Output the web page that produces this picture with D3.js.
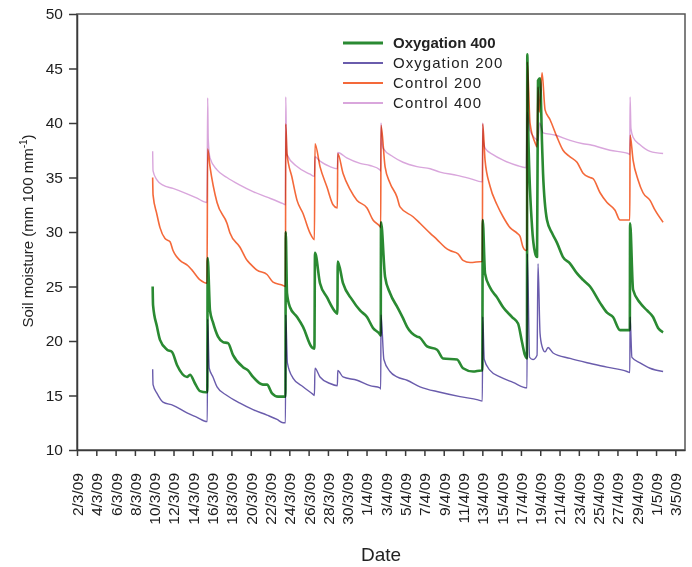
<!DOCTYPE html>
<html>
<head>
<meta charset="utf-8">
<script src="https://cdn.jsdelivr.net/npm/d3@7"></script>
<style>
  body { margin: 0; background: #fff; }
  svg { font-family: "Liberation Sans", Arial, sans-serif; }
  .line { fill: none; stroke-linejoin: round; mix-blend-mode: multiply; }
  .axis path, .axis line { stroke: #3a3a3a; stroke-width: 1.5; }
  .axis text { fill: #1e1e1e; font-size: 15.5px; }
</style>
</head>
<body>
<svg id="chart" width="692" height="567"></svg>
<script>

// Data: [days after 2/3/09, soil moisture (mm 100 mm-1)]
var oxy400 = [
  [7.84,25.0],[7.88,23.3],[8.29,21.3],[8.6,20.1],[9.33,19.2],[9.84,19.0],[10.36,17.8],[11.4,16.7],[11.71,16.9],[12.23,16.1],[12.75,15.4],[13.37,15.3],[13.5,15.3],
  [13.54,27.6],[13.78,22.8],[14.09,21.7],[14.61,20.4],[15.13,19.9],[15.65,19.8],[16.17,18.7],[17.2,17.6],[17.72,17.3],[18.24,16.7],[19.27,16.0],[19.69,16.0],[20.21,15.2],[20.83,14.9],[21.45,14.9],[21.6,14.9],
  [21.63,30.0],[21.76,24.4],[22.07,23.1],[22.8,22.2],[23.42,21.3],[24.35,19.4],[24.6,19.3],
  [24.66,28.1],[25.18,25.3],[25.91,24.0],[26.74,22.7],[26.98,22.5],
  [27.02,27.3],[27.56,25.3],[28.5,23.8],[29.33,22.8],[30.05,22.2],[30.67,21.2],[31.4,20.6],[31.47,20.5],
  [31.5,30.9],[31.92,25.9],[32.43,24.4],[33.26,23.0],[33.78,22.1],[34.2,21.3],[35.23,20.4],[35.54,20.3],[36.27,19.5],[37.31,19.2],[37.93,18.4],[39.38,18.3],[40.0,17.5],[41.04,17.2],[41.87,17.3],[42.0,17.3],
  [42.04,31.1],[42.28,26.2],[42.8,24.9],[43.52,24.0],[44.15,23.1],[45.08,22.2],[45.7,21.6],[46.11,19.9],[46.42,18.7],[46.62,18.4],
  [46.66,46.3],[46.74,40.0],[47.15,30.5],[47.46,28.1],[47.67,27.7],[47.77,43.9],[47.98,44.1],[48.19,38.0],[48.29,35.4],[48.7,31.1],[49.22,29.9],[49.74,29.0],[50.36,27.7],[51.09,27.1],[51.81,26.2],[52.44,25.6],[53.16,25.0],[54.2,23.5],[54.92,22.6],[55.54,22.2],[56.27,21.0],[57.28,21.0],
  [57.31,30.8],[57.62,24.7],[58.34,23.5],[59.07,22.8],[59.69,22.2],[60.21,21.2],[60.73,20.8]
];

var oxy200 = [
  [7.84,17.4],[7.88,16.0],[8.29,15.2],[8.91,14.4],[9.95,14.1],[11.4,13.4],[12.44,13.0],[13.47,12.6],[13.5,12.6],
  [13.54,22.0],[13.7,17.5],[14.09,16.7],[14.51,15.8],[15.54,15.0],[16.89,14.3],[18.24,13.7],[19.69,13.2],[20.73,12.8],[21.35,12.5],[21.6,12.5],
  [21.63,22.4],[21.8,18.0],[22.38,16.6],[23.42,15.8],[24.46,15.1],[24.6,15.0],
  [24.66,17.5],[25.18,16.7],[26.22,16.1],[26.98,15.9],
  [27.02,17.3],[27.56,16.7],[29.02,16.4],[30.36,15.9],[31.4,15.7],[31.47,15.6],
  [31.5,22.4],[31.8,18.3],[32.43,17.2],[33.16,16.7],[34.2,16.4],[35.54,15.8],[37.62,15.3],[39.69,14.9],[41.55,14.6],[42.0,14.5],
  [42.04,22.2],[42.2,18.3],[42.8,17.3],[43.83,16.7],[45.18,16.2],[46.63,15.7],
  [46.66,28.0],[46.9,18.5],[47.25,18.3],[47.67,18.7],[47.77,27.1],[47.98,20.7],[48.19,19.5],[48.5,19.0],[48.81,19.4],[49.33,18.9],[51.09,18.4],[52.85,18.0],[54.92,17.6],[56.99,17.2],[57.28,17.1],
  [57.31,22.2],[57.5,18.5],[58.34,18.0],[59.38,17.5],[60.73,17.2]
];

var ctl200 = [
  [7.84,35.0],[7.88,33.4],[8.26,31.7],[8.6,30.4],[9.12,29.4],[9.64,29.1],[9.95,28.3],[10.67,27.4],[11.5,26.9],[11.92,26.5],[12.75,25.6],[13.47,25.3],
  [13.54,37.6],[13.78,36.0],[14.51,32.7],[15.54,30.8],[15.85,29.9],[16.89,28.6],[17.62,27.4],[17.93,27.1],[18.65,26.5],[19.69,26.1],[20.31,25.4],[21.35,25.1],[21.6,25.0],
  [21.63,39.9],[21.76,37.2],[22.28,35.0],[22.8,32.9],[23.42,31.7],[24.15,29.9],[24.6,29.3],
  [24.66,38.1],[25.18,36.0],[25.91,34.1],[26.53,32.5],[26.98,32.2],
  [27.02,37.2],[27.56,35.4],[28.29,33.9],[29.02,32.9],[30.05,32.2],[30.67,31.1],[31.4,30.5],[31.47,30.4],
  [31.5,39.8],[31.92,36.0],[32.43,34.5],[33.16,33.2],[33.47,32.3],[34.82,31.4],[35.54,30.8],[36.58,29.9],[37.31,29.3],[38.13,28.6],[38.65,28.3],[39.48,28.0],[40.0,27.4],[40.73,27.2],[41.97,27.3],[42.0,27.3],
  [42.04,39.9],[42.28,36.6],[42.8,34.2],[43.52,32.5],[44.15,31.4],[44.87,30.4],[45.6,29.9],[45.91,29.6],[46.22,28.6],[46.53,28.3],[46.62,28.4],
  [46.66,45.6],[46.94,40.0],[47.46,38.2],[47.67,37.8],[47.77,43.3],[47.9,41.0],[48.19,44.6],[48.5,41.2],[49.02,40.3],[49.74,38.7],[50.36,37.5],[51.09,36.9],[51.81,36.4],[52.44,35.4],[53.16,35.0],[53.47,34.9],[54.2,33.6],[54.92,32.7],[55.75,32.0],[56.27,31.1],[57.2,31.1],[57.28,31.1],
  [57.31,38.9],[57.62,36.6],[58.13,34.8],[58.65,33.6],[59.38,32.9],[59.9,32.0],[60.73,30.9]
];

var ctl400 = [
  [7.84,37.4],[7.88,35.6],[8.26,34.8],[8.91,34.3],[9.95,34.0],[11.4,33.5],[12.44,33.1],[13.47,32.7],
  [13.54,42.3],[13.6,38.5],[13.78,36.8],[14.51,35.7],[15.54,35.0],[16.89,34.3],[18.24,33.7],[19.69,33.2],[21.35,32.6],[21.6,32.5],
  [21.63,42.4],[21.7,38.5],[21.76,37.1],[22.8,36.0],[24.15,35.3],[24.6,35.1],
  [24.66,36.9],[25.18,36.5],[26.22,36.0],[26.98,35.8],
  [27.02,37.3],[27.95,36.8],[29.33,36.3],[30.36,36.1],[31.4,35.7],[31.47,35.6],
  [31.5,40.0],[31.6,38.3],[31.71,37.7],[32.75,36.9],[33.78,36.4],[35.23,36.0],[36.6,35.8],[37.62,35.5],[39.38,35.2],[40.73,34.9],[41.97,34.6],[42.0,34.6],
  [42.04,40.0],[42.1,38.5],[42.28,37.7],[43.11,37.1],[44.15,36.6],[45.6,36.1],[46.53,35.9],
  [46.66,41.0],[46.9,39.4],[47.46,38.6],[47.77,38.4],[47.93,40.0],[48.3,39.1],[49.5,38.9],[51.09,38.4],[52.44,38.1],[53.16,38.0],[55.23,37.5],[57.1,37.2],[57.28,37.1],
  [57.31,42.4],[57.4,39.5],[57.62,38.7],[58.34,38.0],[59.38,37.4],[60.73,37.2]
];

var seriesNames = ["Oxygation 400", "Oxygation 200", "Control 200", "Control 400"];
var seriesData = [oxy400, oxy200, ctl200, ctl400];
var seriesColors = ["#2a8a32", "#6a5cac", "#f4693a", "#d9a6dc"];
var seriesWidths = [2.6, 1.4, 1.6, 1.4];

var yTicks = [10, 15, 20, 25, 30, 35, 40, 45, 50];
var xTickDays = d3.range(0, 63, 2); // every 2 days, 2/3/09 .. 3/5/09


// Scales and layout
var svg = d3.select("#chart");
var margin = { top: 14, right: 7, bottom: 117, left: 77 };
var width = 692 - margin.left - margin.right;
var height = 567 - margin.top - margin.bottom;

var t0 = Date.UTC(2009, 2, 2);
function toDate(day) { return new Date(t0 + day * 864e5); }

var x = d3.scaleUtc()
  .domain([toDate(0), toDate(63)])
  .range([margin.left, margin.left + width]);

var y = d3.scaleLinear()
  .domain([10, 50])
  .range([margin.top + height, margin.top]);


// Plot frame (top and right)
svg.append("rect")
  .attr("x", margin.left)
  .attr("y", margin.top)
  .attr("width", width)
  .attr("height", height)
  .attr("fill", "none")
  .attr("stroke", "#555")
  .attr("stroke-width", 1.5);


// Lines, drawn back to front
var line = d3.line()
  .curve(d3.curveMonotoneX)
  .x(function (d) { return x(toDate(d[0])); })
  .y(function (d) { return y(d[1]); });

var order = [3, 2, 1, 0];
order.forEach(function (i) {
  svg.append("path")
    .attr("class", "line")
    .attr("d", line(seriesData[i]))
    .attr("stroke", seriesColors[i])
    .attr("stroke-width", seriesWidths[i]);
});


// Axes
svg.append("g")
  .attr("class", "axis")
  .attr("transform", "translate(" + margin.left + ",0)")
  .call(d3.axisLeft(y).tickValues(yTicks).tickSize(8).tickPadding(6).tickSizeOuter(0));

var fmt = function (d) { return d.getUTCDate() + "/" + (d.getUTCMonth() + 1) + "/09"; };

var xAxis = svg.append("g")
  .attr("class", "axis")
  .attr("transform", "translate(0," + (margin.top + height) + ")")
  .call(d3.axisBottom(x).tickValues(xTickDays.map(toDate)).tickFormat(fmt).tickSize(6).tickSizeOuter(0));

xAxis.selectAll("text")
  .attr("transform", "rotate(-90)")
  .attr("text-anchor", "end")
  .attr("x", -23)
  .attr("y", 0)
  .attr("dy", "0.35em");


// Axis titles
svg.append("text")
  .attr("x", 381)
  .attr("y", 561)
  .attr("text-anchor", "middle")
  .attr("font-size", 19)
  .attr("fill", "#222")
  .text("Date");

var yTitle = svg.append("text")
  .attr("transform", "translate(33,231) rotate(-90)")
  .attr("text-anchor", "middle")
  .attr("font-size", 15)
  .attr("fill", "#222");
yTitle.append("tspan").text("Soil moisture (mm 100 mm");
yTitle.append("tspan").attr("font-size", 10).attr("dy", -6).text("-1");
yTitle.append("tspan").attr("dy", 6).text(")");


// Legend
var legend = svg.append("g").attr("transform", "translate(343,43)");
seriesNames.forEach(function (name, i) {
  var row = legend.append("g").attr("transform", "translate(0," + (i * 20) + ")");
  row.append("line")
    .attr("x1", 0).attr("x2", 40)
    .attr("stroke", seriesColors[i])
    .attr("stroke-width", i == 0 ? 3.2 : 2);
  row.append("text")
    .attr("x", 50)
    .attr("dy", "0.35em")
    .attr("font-size", 15)
    .attr("font-weight", i == 0 ? "bold" : "normal")
    .attr("letter-spacing", i == 0 ? 0 : 1.05)
    .attr("fill", "#222")
    .text(name);
});

</script>
</body>
</html>
